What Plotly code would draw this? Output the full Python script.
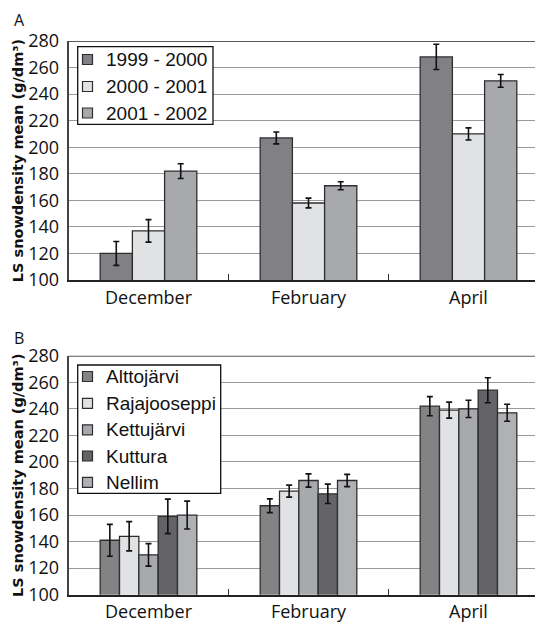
import plotly.graph_objects as go

# Snow density (LS mean, g/dm3) by month
months = ["December", "February", "April"]

# Panel A: winters
seasons = ["1999 - 2000", "2000 - 2001", "2001 - 2002"]
season_means = [
    [120, 207, 268],
    [137, 158, 210],
    [182, 171, 250],
]
season_err = [
    [9, 4.5, 9.5],
    [8.5, 3.7, 4.6],
    [5.5, 3, 4.8],
]

# Panel B: sites
sites = ["Alttojärvi", "Rajajooseppi", "Kettujärvi", "Kuttura", "Nellim"]
site_means = [
    [141, 167, 242],
    [144, 178, 239],
    [130, 186, 240],
    [159, 176, 254],
    [160, 186, 237],
]
site_err = [
    [12, 5.2, 7.2],
    [11, 4.5, 6],
    [8.5, 5, 6.5],
    [13, 7.3, 9.4],
    [10.5, 4.6, 6.4],
]

y_ticks = [100, 120, 140, 160, 180, 200, 220, 240, 260, 280]

season_colors = ["#818185", "#e1e2e4", "#a8a9ac"]
site_colors = ["#838386", "#e1e2e4", "#a8a9ac", "#646467", "#b0b1b4"]

W, H = 535, 624
OUTLINE = "#2e2e2e"


def px(x):
    return x / W


def py(y):
    return 1 - y / H


fig = go.Figure()

for name, vals, err, col in zip(seasons, season_means, season_err, season_colors):
    fig.add_trace(go.Bar(
        x=months, y=vals, name=name, xaxis="x", yaxis="y",
        marker=dict(color=col, line=dict(color=OUTLINE, width=1.3)),
        error_y=dict(type="data", array=err, color="#111", thickness=1.6, width=3),
        showlegend=False,
    ))

for name, vals, err, col in zip(sites, site_means, site_err, site_colors):
    fig.add_trace(go.Bar(
        x=months, y=vals, name=name, xaxis="x2", yaxis="y2",
        marker=dict(color=col, line=dict(color=OUTLINE, width=1.3)),
        error_y=dict(type="data", array=err, color="#111", thickness=1.6, width=3),
        showlegend=False,
    ))

panels = {
    "A": dict(top=41, bottom=280),
    "B": dict(top=355.7, bottom=594.7),
}
plot_left = 68.5
x_range = [-0.5, 2.5 - (plot_left + 480 - W) / 160]

tick_font = dict(family="Open Sans", size=18, color="#111")
cat_font = dict(family="Open Sans", size=18, color="#111")
title_font = dict(family="DejaVu Sans", size=14.5, color="#111")
title_text = "<b>LS snowdensity mean (g/dm³)</b>"

for suffix, key in [("", "A"), ("2", "B")]:
    p = panels[key]
    fig.update_layout(**{
        "xaxis" + suffix: dict(
            domain=[px(plot_left), 1], range=x_range, anchor="y" + suffix,
            type="category", tickson="boundaries", ticks="inside", ticklen=6,
            tickcolor=OUTLINE, tickwidth=1.3, showline=True, linecolor="#222",
            linewidth=2, showgrid=False, tickfont=cat_font, zeroline=False,
            automargin=False,
        ),
        "yaxis" + suffix: dict(
            domain=[py(p["bottom"]), py(p["top"])], range=[100, 280],
            anchor="x" + suffix, tickvals=y_ticks, tickfont=tick_font,
            showgrid=True, gridcolor="#9a9a9a", gridwidth=1.2,
            showline=True, linecolor="#444", linewidth=1.6, ticks="",
            ticklabelstandoff=4, zeroline=False, automargin=False,
            title=dict(text=title_text, font=title_font, standoff=1),
        ),
    })
    # dark frame line along the top of each panel
    fig.add_shape(type="line", xref="x" + suffix + " domain", yref="y" + suffix,
                  x0=0, x1=1, y0=280, y1=280,
                  line=dict(color="#5a5a5a", width=2.2))

# Panel letters
for letter, yy in [("A", 20), ("B", 338)]:
    fig.add_annotation(x=px(19), y=py(yy), xref="paper", yref="paper",
                       text=letter, showarrow=False, xanchor="center",
                       yanchor="middle", font=dict(family="Open Sans", size=16,
                                                   color="#111"))


def draw_legend(names, colors, box, centers):
    x0, x1, y0, y1 = box
    fig.add_shape(type="rect", xref="paper", yref="paper",
                  x0=px(x0), x1=px(x1), y0=py(y1), y1=py(y0),
                  line=dict(color="#111", width=1.3), fillcolor="white")
    for name, col, cy in zip(names, colors, centers):
        fig.add_shape(type="rect", xref="paper", yref="paper",
                      x0=px(82.5), x1=px(92.5), y0=py(cy + 5), y1=py(cy - 5),
                      line=dict(color=OUTLINE, width=1.2), fillcolor=col)
        fig.add_annotation(x=px(104), y=py(cy), xref="paper", yref="paper",
                           text=name, showarrow=False, xanchor="left",
                           yanchor="middle",
                           font=dict(family="Liberation Sans", size=19,
                                     color="#111"))


draw_legend(seasons, season_colors, (77.7, 213, 46.7, 124.3), [59.5, 86.5, 113])
draw_legend(sites, site_colors, (77.7, 220.7, 365, 493.3),
            [376.5, 403.3, 429.8, 456, 482.3])

fig.update_layout(
    width=W, height=H, margin=dict(l=0, r=0, t=0, b=0, autoexpand=False),
    paper_bgcolor="white", plot_bgcolor="white",
    barmode="group", bargap=0.396, bargroupgap=0,
    showlegend=False,
)

fig.write_html("out.html")
